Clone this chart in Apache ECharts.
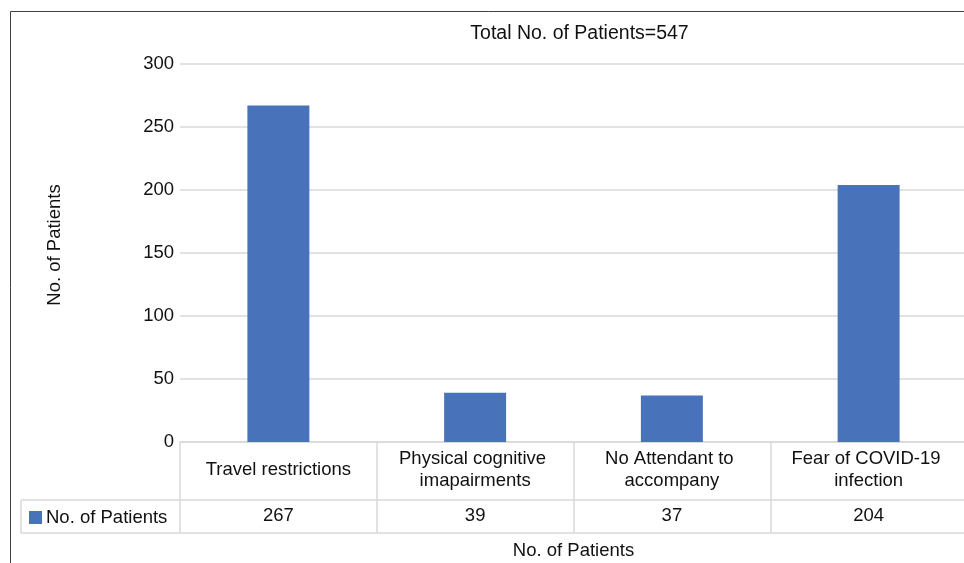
<!DOCTYPE html>
<html><head><meta charset="utf-8">
<script src="https://cdn.jsdelivr.net/npm/echarts@6/dist/echarts.min.js"></script>
<style>html,body{margin:0;padding:0;background:#fff;overflow:hidden}#c{width:967px;height:563px}</style>
</head><body><div id="c"></div>
<script>
const categories = ['Travel restrictions', 'Physical cognitive imapairments', 'No Attendant to accompany', 'Fear of COVID-19 infection'];
const seriesName = 'No. of Patients';
const values = [267, 39, 37, 204];
const titleText = 'Total No. of Patients=547';
const yAxisTitle = 'No. of Patients';
const xAxisTitle = 'No. of Patients';
const yMin = 0, yMax = 300, yStep = 50;

const FONT = "'Liberation Sans', Arial, sans-serif";
const FS = 18.5;
const TXT = '#111';
const LINE = '#d9d9d9';
const CW = 967;              // canvas width (page shows the first 964 px)
const GL = 180, GT = 64, GR = 0, GH = 378;
const GW = CW - GR - GL;
const GB = GT + GH;          // axis line y
const ROW1 = GB + 58;        // row separator
const ROW2 = GB + 91;        // table bottom
const TABLE_LEFT = 21;

const chart = echarts.init(document.getElementById('c'), null, {renderer: 'canvas'});
chart.setOption({
  animation: false,
  textStyle: {fontFamily: FONT},
  title: {
    text: titleText, left: GL + GW / 2 + 1, top: 19, textAlign: 'center',
    textStyle: {fontFamily: FONT, fontSize: 19.5, fontWeight: 'normal', color: TXT}
  },
  legend: {
    data: [seriesName], left: 29, top: ROW1 + 8, padding: 0,
    itemWidth: 13, itemHeight: 13, itemGap: 5, icon: 'rect',
    textStyle: {fontFamily: FONT, fontSize: FS, color: TXT, padding: [0, 0, 0, -1]}
  },
  grid: {left: GL, top: GT, right: GR, height: GH, containLabel: false},
  xAxis: [{
    type: 'category', data: categories, boundaryGap: true,
    axisLine: {show: true, lineStyle: {color: LINE, width: 1.5}},
    axisTick: {show: true, length: ROW2 - GB, interval: 0, alignWithLabel: false, lineStyle: {color: LINE, width: 1.5}},
    axisLabel: {
      interval: 0, margin: 28, verticalAlign: 'middle', width: 170, overflow: 'break',
      fontFamily: FONT, fontSize: FS, color: TXT, lineHeight: 22
    },
    splitLine: {show: false}
  }, {
    type: 'category', data: values.map(String), position: 'bottom', gridIndex: 0,
    axisLine: {show: false}, axisTick: {show: false},
    axisLabel: {interval: 0, margin: ROW1 - GB + 16, verticalAlign: 'middle', fontFamily: FONT, fontSize: FS, color: TXT}
  }],
  yAxis: {
    type: 'value', min: yMin, max: yMax, interval: yStep,
    axisLine: {show: false}, axisTick: {show: false},
    axisLabel: {margin: 6, fontFamily: FONT, fontSize: FS, color: TXT},
    splitLine: {lineStyle: {color: LINE, width: 1.5}}
  },
  series: [{
    name: seriesName, type: 'bar', data: values, xAxisIndex: 0,
    barWidth: '31.5%', itemStyle: {color: '#4872BA'}
  }],
  graphic: [
    {type: 'line', shape: {x1: TABLE_LEFT, y1: ROW1, x2: CW, y2: ROW1}, style: {stroke: LINE, lineWidth: 1.5}, silent: true},
    {type: 'line', shape: {x1: TABLE_LEFT, y1: ROW2, x2: CW, y2: ROW2}, style: {stroke: LINE, lineWidth: 1.5}, silent: true},
    {type: 'line', shape: {x1: TABLE_LEFT, y1: ROW1, x2: TABLE_LEFT, y2: ROW2}, style: {stroke: LINE, lineWidth: 1.5}, silent: true},
    {type: 'line', shape: {x1: 10.5, y1: 11.5, x2: CW, y2: 11.5}, style: {stroke: '#404040', lineWidth: 1}, silent: true},
    {type: 'line', shape: {x1: 10.5, y1: 11.5, x2: 10.5, y2: 563}, style: {stroke: '#404040', lineWidth: 1}, silent: true},
    {type: 'text', x: 55, y: 245, rotation: Math.PI / 2,
      style: {text: yAxisTitle, x: 0, y: 0, align: 'center', verticalAlign: 'middle', font: FS + 'px ' + FONT, fill: TXT}},
    {type: 'text', x: GL + GW / 2, y: 551,
      style: {text: xAxisTitle, x: 0, y: 0, align: 'center', verticalAlign: 'middle', font: FS + 'px ' + FONT, fill: TXT}}
  ]
});
</script></body></html>
